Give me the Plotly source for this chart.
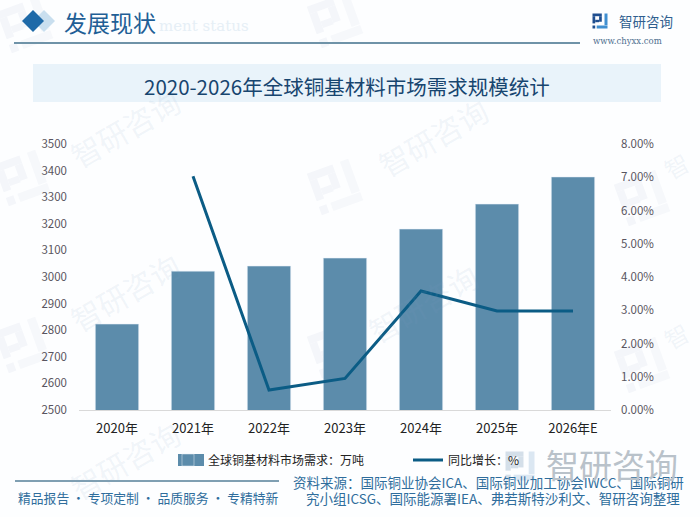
import math
import plotly.graph_objects as go

W, H = 700, 517
categories = ["2020年", "2021年", "2022年", "2023年", "2024年", "2025年", "2026年E"]
demand = [2823, 3022, 3041, 3071, 3180, 3274, 3376]
growth = [None, 7.03, 0.60, 0.95, 3.58, 2.98, 2.98]
left_ticks = [2500, 2600, 2700, 2800, 2900, 3000, 3100, 3200, 3300, 3400, 3500]
right_ticks = [0, 1, 2, 3, 4, 5, 6, 7, 8]
right_labels = ["0.00%", "1.00%", "2.00%", "3.00%", "4.00%", "5.00%", "6.00%", "7.00%", "8.00%"]
title = "2020-2026年全球铜基材料市场需求规模统计"
source1 = "资料来源：国际铜业协会ICA、国际铜业加工协会IWCC、国际铜研"
source2 = "究小组ICSG、国际能源署IEA、弗若斯特沙利文、智研咨询整理"

FONT = "Noto Sans CJK SC"
DARK = "#17456f"
BAR = "#5c8cab"
LINE = "#0b5c85"
WM = "rgba(130,160,195,0.11)"


def px(x):
    return x / W


def py(y):
    return 1 - y / H


def text(x, y, s, size, color, anchor="left", angle=0, family=FONT):
    return dict(x=px(x), y=py(y), xref="paper", yref="paper", text=s, showarrow=False,
                xanchor=anchor, yanchor="middle", textangle=angle,
                font=dict(size=size, color=color, family=family))


def rect(x0, y0, x1, y1, color):
    return dict(type="rect", xref="paper", yref="paper", x0=px(x0), x1=px(x1), y0=py(y1), y1=py(y0),
                fillcolor=color, line_width=0, layer="below")


def diamond(cx, cy, r, color):
    p = f"M {px(cx - r)} {py(cy)} L {px(cx)} {py(cy - r)} L {px(cx + r)} {py(cy)} L {px(cx)} {py(cy + r)} Z"
    return dict(type="path", xref="paper", yref="paper", path=p, fillcolor=color, line_width=0, layer="below")


LOGO_DARK = [(0, 0, .62, .18), (.44, .18, .62, .55), (.18, .42, .44, .58), (0, .18, .18, .66), (0, .8, .18, 1)]
LOGO_LIGHT = [(.8, 0, 1, .78), (.28, .8, 1, 1)]


def logo(x, y, s, dark, light, angle=0):
    """x, y is the centre of a logo of size s in pixels."""
    out = []
    a = math.radians(angle)
    for pieces, col in ((LOGO_DARK, dark), (LOGO_LIGHT, light)):
        for x0, y0, x1, y1 in pieces:
            pts = []
            for u, v in ((x0, y0), (x1, y0), (x1, y1), (x0, y1)):
                du, dv = (u - .5) * s, (v - .5) * s
                pts.append((x + du * math.cos(a) - dv * math.sin(a), y + du * math.sin(a) + dv * math.cos(a)))
            path = "M " + " L ".join(f"{px(p)} {py(q)}" for p, q in pts) + " Z"
            out.append(dict(type="path", xref="paper", yref="paper", path=path, fillcolor=col,
                            line_width=0, layer="below"))
    return out


fig = go.Figure()
fig.add_bar(x=categories, y=demand, name="全球铜基材料市场需求：万吨", marker_color=BAR, yaxis="y", width=0.57)
fig.add_scatter(x=categories, y=growth, name="同比增长：%", mode="lines", yaxis="y2",
                line=dict(color=LINE, width=3))

annotations = []
for x, y in [(125, 128), (125, 292), (433, 137), (423, 303), (125, 460)]:
    annotations.append(text(x, y, "智研咨询", 30, WM, "center", angle=-30))
for y in (165, 335):
    annotations.append(text(676, y, "智", 24, WM, "center", angle=-30))
annotations += [
    text(157, 26, "ment status", 15, "#e6eff6", family="DejaVu Serif"),
    text(62, 22, "发展现状", 23, "#1f5f96"),
    text(347, 86, title, 20.5, DARK, "center"),
    text(617, 21, "智研咨询", 13.5, "#2f5f8f"),
    text(591, 41, "www.chyxx.com", 8.5, "#4f6f8f", family="DejaVu Serif"),
    text(16, 497, "精品报告 · 专项定制 · 品质服务 · 专精特新", 12.8, "#2f6d9c"),
    text(291, 482, source1, 13.5, "#2f6d9c"),
    text(304, 498, source2, 13.5, "#2f6d9c"),
    text(544, 464, "智研咨询", 33, "#b9c2ca"),
]

shapes = []
for cx, cy in [(22, 178), (22, 345), (335, 187), (335, 350), (642, 198), (642, 365), (25, 25), (335, 20)]:
    shapes += logo(cx, cy, 44, "#f4f6fa", "#f6f8fb", angle=-20)
shapes += logo(600, 21, 15, "#1f4e8f", "#3f8fd0")
shapes += logo(520, 466, 29, "#d4dfe9", "#dbe7f2")
shapes += [
    rect(33, 64, 661, 102, "#e9f3fa"),
    rect(14, 42, 580, 44, "#6f93a8"),
    rect(15, 480, 279, 482, "#7f9fb2"),
    diamond(44, 21, 11, "#c9dfef"),
    diamond(33, 21, 11, "#1f6aa8"),
    rect(178, 454, 204, 466, BAR),
]

fig.update_layout(
    width=W, height=H, margin=dict(l=0, r=0, t=0, b=0),
    paper_bgcolor="#fdfeff", plot_bgcolor="rgba(0,0,0,0)",
    font=dict(family=FONT, size=12.5, color="#333333"),
    bargap=0.43,
    xaxis=dict(domain=[px(79), px(611)], automargin=False, showgrid=False, ticks="",
               showline=True, linecolor="#d9d9d9", linewidth=1, tickfont=dict(size=13, color="#222222"),
               ticklabelstandoff=6),
    yaxis=dict(domain=[py(410), py(144)], range=[2500, 3500], tickvals=left_ticks, showgrid=False,
               automargin=False, zeroline=False, ticks="", tickfont=dict(size=11.5, color="#595560"),
               ticklabelstandoff=11),
    yaxis2=dict(overlaying="y", side="right", anchor="x", range=[0, 8], tickvals=right_ticks,
                ticktext=right_labels, showgrid=False, zeroline=False, automargin=False, ticks="",
                tickfont=dict(size=11.5, color="#595560"), ticklabelstandoff=9),
    legend=dict(orientation="h", x=px(168), y=py(460), xanchor="left", yanchor="middle",
                bgcolor="rgba(0,0,0,0)", font=dict(size=12, color="#222222"), itemwidth=30,
                entrywidth=195, entrywidthmode="pixels"),
    annotations=annotations, shapes=shapes,
)
fig.write_html("out.html", post_script="document.body.style.margin='0';", config={"displayModeBar": False})
